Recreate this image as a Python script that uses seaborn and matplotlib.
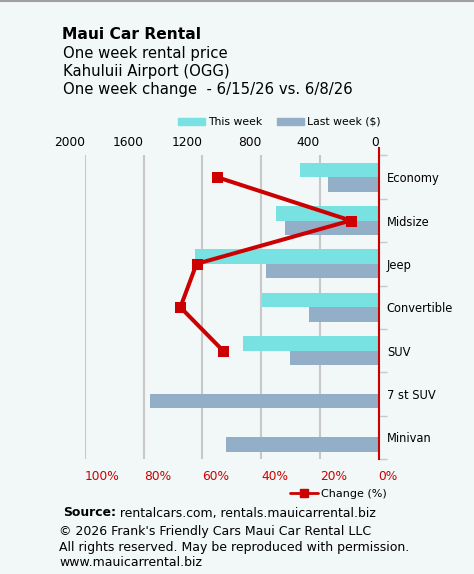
import numpy as np
import pandas as pd
import matplotlib
matplotlib.use('Agg')
import matplotlib.pyplot as plt
import seaborn as sns
from matplotlib.lines import Line2D
from matplotlib.patches import Patch

# ==================== данные ====================
categories = ['Economy', 'Midsize', 'Jeep', 'Convertible', 'SUV', '7 st SUV', 'Minivan']
this_week = [532, 696, 1251, 796, 925, np.nan, np.nan]
last_week = [341, 635, 768, 471, 603, 1556, 1041]
change_cats = ['Economy', 'Midsize', 'Jeep', 'Convertible', 'SUV']
change_pct = [55, 9.5, 62, 67.5, 53]

usd_ticks = [2000, 1600, 1200, 800, 400, 0]
pct_ticks = [100, 80, 60, 40, 20, 0]

bg = '#f2f7f7'
c_this = '#78e2e2'
c_last = '#93afc7'
c_red = '#cc0000'

sns.set_style('white')
plt.rcParams['font.family'] = ['DejaVu Sans']
plt.rcParams['text.color'] = 'black'
plt.rcParams['xtick.color'] = 'black'
plt.rcParams['ytick.color'] = 'black'

df = pd.DataFrame({
    'category': categories * 2,
    'series': ['This week'] * len(categories) + ['Last week ($)'] * len(categories),
    'price': this_week + last_week,
})
df_chg = pd.DataFrame({'category': change_cats, 'change': change_pct})

W, H = 474, 574
fig = plt.figure(figsize=(W / 100, H / 100), dpi=100, facecolor=bg)
ax = fig.add_axes([85 / W, 1 - 459 / H, (378.5 - 85) / W, (459 - 155.5) / H])
ax.set_facecolor(bg)

sns.barplot(data=df, y='category', x='price', hue='series', order=categories,
            hue_order=['This week', 'Last week ($)'], palette=[c_this, c_last],
            orient='h', width=0.67, errorbar=None, linewidth=0, saturation=1,
            ax=ax, legend=False)
ax.set_xlim(2000, 0)
ax.grid(axis='x', color='#c8c8c8', lw=1.5)
ax.set_axisbelow(True)
ax.set_xlabel('')
ax.set_ylabel('')

# категории справа, засечки между группами
ax.yaxis.tick_right()
ax.set_yticks(np.arange(len(categories)))
ax.set_yticklabels(categories, fontsize=8.3)
ax.set_yticks(np.arange(len(categories) + 1) - 0.5, minor=True)
ax.tick_params(axis='y', which='major', length=0, pad=6)
ax.tick_params(axis='y', which='minor', length=6, width=1, color='#c8c8c8', direction='out')
for s in ['top', 'left', 'bottom']:
    ax.spines[s].set_visible(False)
ax.spines['right'].set_color(c_red)
ax.spines['right'].set_linewidth(1.5)
ax.spines['right'].set_bounds(len(categories) - 0.5, -0.68)

# ==================== изменение (%) ====================
ax2 = ax.twiny()
sns.pointplot(data=df_chg, x='change', y='category', order=categories, orient='h',
              color=c_red, markers='s', markersize=6, linewidth=2.9, errorbar=None, ax=ax2)
ax2.set_xlim(100, 0)
ax2.set_ylim(len(categories) - 0.5, -0.5)
ax2.set_xticks(pct_ticks)
ax2.set_xticklabels([f'{t}%' for t in pct_ticks], fontsize=8.8, color=c_red, ha='left')
ax2.xaxis.set_ticks_position('bottom')
ax2.tick_params(axis='x', length=0, pad=8)
ax2.set_xlabel('')
ax2.set_ylabel('')
for s in ax2.spines.values():
    s.set_visible(False)

# доллары сверху (после twiny, он сбрасывает)
ax.xaxis.tick_top()
ax.set_xticks(usd_ticks)
ax.set_xticklabels([str(t) for t in usd_ticks], fontsize=8.8, ha='right')
ax.tick_params(axis='x', length=0, pad=5)

# ==================== легенды ====================
h_bars = [Patch(color=c_this), Patch(color=c_last)]
fig.legend(h_bars, ['This week', 'Last week ($)'], loc='center left',
           bbox_to_anchor=(178 / W, 1 - 122 / H), ncol=2, frameon=False, fontsize=7.8,
           handlelength=2.5, handleheight=0.6, handletextpad=0.3, columnspacing=1.3,
           borderpad=0, borderaxespad=0)
h_line = [Line2D([], [], color=c_red, lw=2, marker='s', markersize=5.5)]
fig.legend(h_line, ['Change (%)'], loc='center left', bbox_to_anchor=(290 / W, 1 - 494 / H),
           frameon=False, fontsize=8, handlelength=2.5, handletextpad=0.3,
           borderpad=0, borderaxespad=0)

# ==================== тексты ====================
fig.text(62 / W, 1 - 39 / H, 'Maui Car Rental', fontsize=11.2, fontweight='bold', va='baseline')
subs = ['One week rental price', 'Kahuluii Airport (OGG)', 'One week change  - 6/15/26 vs. 6/8/26']
for i, s in enumerate(subs):
    fig.text(63 / W, 1 - (58 + 18 * i) / H, s, fontsize=10.7, va='baseline')

src = fig.text(63 / W, 1 - 513 / H, 'Source:', fontsize=8.9, fontweight='bold', va='center')
ax.annotate(' rentalcars.com, rentals.mauicarrental.biz', xy=(1, 0), xycoords=src,
            va='bottom', ha='left', fontsize=8.9, annotation_clip=False)
foot = ["\u00a9 2026 Frank's Friendly Cars Maui Car Rental LLC",
        'All rights reserved. May be reproduced with permission.',
        'www.mauicarrental.biz']
for i, s in enumerate(foot):
    fig.text(59 / W, 1 - (532 + 15.5 * i) / H, s, fontsize=9, va='center')

fig.add_artist(Line2D([0, 1], [1 - 0.5 / H, 1 - 0.5 / H], color='#a0a0a0', lw=1.5))

fig.savefig('out.png', dpi=100, facecolor=bg)
